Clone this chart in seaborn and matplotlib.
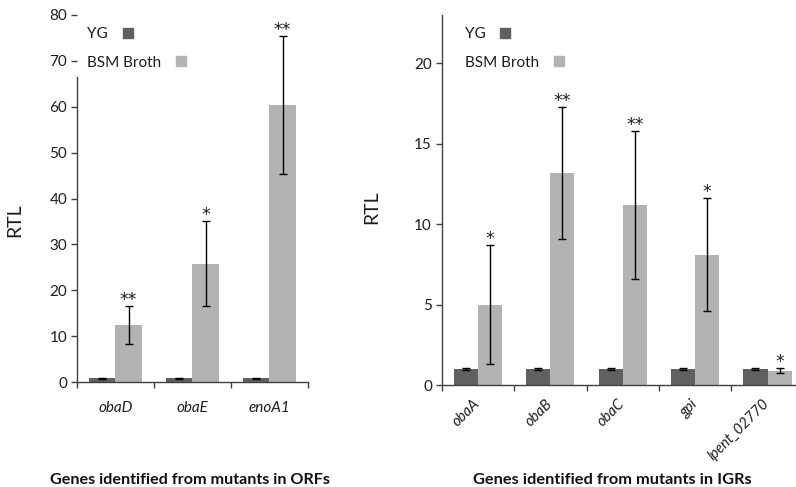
import matplotlib
matplotlib.use("Agg")
import matplotlib.pyplot as plt
from matplotlib.lines import Line2D
import pandas as pd
import seaborn as sns

# Genes identified from mutants in ORFs
orf_genes = ["obaD", "obaE", "enoA1"]
orf_yg = [0.85, 0.85, 0.85]
orf_yg_err = [0.12, 0.12, 0.12]
orf_bsm = [12.4, 25.8, 60.4]
orf_bsm_err = [4.15, 9.2, 15.0]
orf_stars = ["**", "*", "**"]

# Genes identified from mutants in IGRs
igr_genes = ["obaA", "obaB", "obaC", "gpi", "lpent_02770"]
igr_yg = [0.97, 0.97, 0.97, 0.97, 0.97]
igr_yg_err = [0.06, 0.06, 0.06, 0.06, 0.06]
igr_bsm = [5.0, 13.2, 11.2, 8.1, 0.9]
igr_bsm_err = [3.7, 4.1, 4.6, 3.5, 0.15]
igr_stars = ["*", "**", "**", "*", "*"]

conditions = ["YG", "BSM Broth"]
palette = {"YG": "#606060", "BSM Broth": "#b3b3b3"}
AXIS_COLOR = "#404040"
TEXT_COLOR = "#1e1e1e"

sns.set_style("ticks")
plt.rcParams["font.family"] = ["Lato", "DejaVu Sans"]

fig = plt.figure(figsize=(7.96, 4.87), dpi=100)
ax_orf = fig.add_axes([0.0967, 0.2156, 0.2902, 0.7536])
ax_igr = fig.add_axes([0.5549, 0.2094, 0.4548, 0.7598])


def draw_panel(ax, genes, yg, yg_err, bsm, bsm_err, stars, width, ymax, yticks,
               rotate, legend_anchor):
    n = len(genes)
    df = pd.DataFrame({
        "gene": genes + genes,
        "condition": ["YG"] * n + ["BSM Broth"] * n,
        "rtl": yg + bsm,
    })
    sns.barplot(data=df, x="gene", y="rtl", hue="condition", hue_order=conditions,
                order=genes, palette=palette, width=width, errorbar=None,
                saturation=1, linewidth=0, legend=False, ax=ax)

    errs = [yg_err, bsm_err]
    for cont, err in zip(ax.containers, errs):
        xs = [b.get_x() + b.get_width() / 2 for b in cont]
        hs = [b.get_height() for b in cont]
        ax.errorbar(xs, hs, yerr=err, fmt="none", ecolor="black",
                    elinewidth=1.0, capsize=3, capthick=1.0, zorder=4)

    # significance marks above the BSM Broth error bars
    bsm_bars = ax.containers[1]
    for b, e, s in zip(bsm_bars, bsm_err, stars):
        x = b.get_x() + b.get_width() / 2
        ax.annotate(s, (x, b.get_height() + e), xytext=(0, 0.8),
                    textcoords="offset points", ha="center", va="baseline",
                    fontsize=12.5, color=TEXT_COLOR, family="DejaVu Sans")

    ax.set_ylim(0, ymax)
    ax.set_xlim(-0.5, n - 0.5)
    ax.set_yticks(yticks)
    ax.set_xticks(range(n))
    ax.set_xticks([i - 0.5 for i in range(n + 1)], minor=True)
    ax.tick_params(axis="x", which="major", length=0,
                   labelsize=10.5 if rotate else 11)
    ax.tick_params(axis="x", which="minor", length=4, width=1, color=AXIS_COLOR,
                   direction="out")
    ax.tick_params(axis="y", length=4, width=1, color=AXIS_COLOR, labelsize=11,
                   labelcolor=TEXT_COLOR, pad=3)
    for lab in ax.get_xticklabels():
        lab.set_fontstyle("italic")
        lab.set_color(TEXT_COLOR)
        if rotate:
            lab.set_rotation(45)
            lab.set_ha("right")
            lab.set_va("center")
            lab.set_rotation_mode("anchor")
    ax.tick_params(axis="x", which="major", pad=12 if rotate else 14)

    sns.despine(ax=ax)
    for side in ("left", "bottom"):
        ax.spines[side].set_color(AXIS_COLOR)
        ax.spines[side].set_linewidth(1)
    ax.set_xlabel("")
    ax.set_ylabel("RTL", fontsize=14, color=TEXT_COLOR)

    handles = [Line2D([], [], marker="s", linestyle="none", markersize=6.5,
                      markerfacecolor=palette[c], markeredgecolor=palette[c])
               for c in conditions]
    leg = ax.legend(handles, conditions, loc="upper left",
                    bbox_to_anchor=legend_anchor, frameon=False, markerfirst=False,
                    fontsize=11, borderpad=0, borderaxespad=0, labelspacing=0.95,
                    handletextpad=0.5, handlelength=1.6)
    for text in leg.get_texts():
        text.set_color(TEXT_COLOR)
    # keep each label flush left, with its swatch right after it
    for col in leg._legend_handle_box.get_children():
        col.align = "left"


draw_panel(ax_orf, orf_genes, orf_yg, orf_yg_err, orf_bsm, orf_bsm_err, orf_stars,
           width=0.68, ymax=80, yticks=range(0, 81, 10), rotate=False,
           legend_anchor=(0.045, 0.967))
draw_panel(ax_igr, igr_genes, igr_yg, igr_yg_err, igr_bsm, igr_bsm_err, igr_stars,
           width=0.667, ymax=23, yticks=range(0, 21, 5), rotate=True,
           legend_anchor=(0.064, 0.967))

# the legend block on the left panel sits over the top of the y axis line
ax_orf.spines["left"].set_bounds(0, 66.5)

ax_orf.yaxis.set_label_coords(-0.234, 0.441)
ax_igr.yaxis.set_label_coords(-0.170, 0.481)

fig.text(190 / 796, 1 - 480 / 487, "Genes identified from mutants in ORFs",
         ha="center", va="center", fontsize=11.6, fontweight="bold", color="#111111")
fig.text(612 / 796, 1 - 480 / 487, "Genes identified from mutants in IGRs",
         ha="center", va="center", fontsize=11.8, fontweight="bold", color="#111111")

fig.savefig("out.png", dpi=100)
